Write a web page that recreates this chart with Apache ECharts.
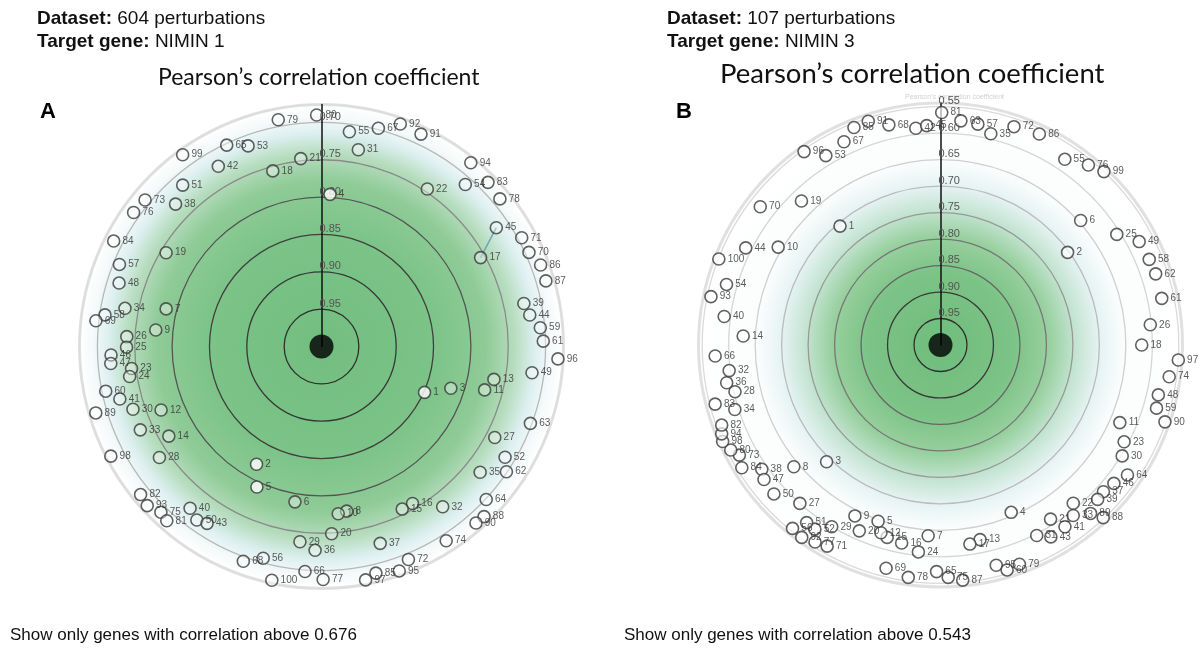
<!DOCTYPE html>
<html><head><meta charset="utf-8">
<script src="https://cdn.jsdelivr.net/npm/echarts@6/dist/echarts.min.js"></script>
<style>html,body{margin:0;padding:0;background:#fff}#c{width:1200px;height:650px}</style>
</head><body><div id="c"></div>
<script>
// ---------- Panel A data (NIMIN 1) ----------
const genesA = ['79','80','65','53','99','42','21','18','51','73','38','76','84','19','57','48','34','7','58','69','9','26','25','46','47','23','24','60','41','89','30','12','33','14','98','28','2','5','6','82','93','75','81','40','50','43','68','56','100','29','36','66','77','61','96','49','13','11','3','1','63','27','52','35','62','64','88','90','74','32','16','15','8','10','20','37','72','95','85','97','55','67','92','91','31','4','22','94','54','83','78','45','17','71','70','86','87','39','44','59'];
const corrA = [0.691,0.690,0.702,0.714,0.683,0.722,0.747,0.756,0.715,0.693,0.727,0.691,0.688,0.757,0.708,0.716,0.732,0.786,0.707,0.696,0.777,0.739,0.739,0.718,0.717,0.744,0.740,0.705,0.721,0.685,0.734,0.769,0.733,0.763,0.682,0.737,0.820,0.793,0.789,0.687,0.684,0.691,0.688,0.721,0.714,0.718,0.694,0.706,0.680,0.737,0.727,0.698,0.688,0.703,0.683,0.716,0.765,0.774,0.818,0.849,0.702,0.738,0.713,0.729,0.701,0.699,0.685,0.686,0.691,0.731,0.757,0.757,0.777,0.775,0.749,0.725,0.692,0.682,0.688,0.682,0.710,0.698,0.684,0.686,0.732,0.796,0.746,0.683,0.710,0.687,0.690,0.717,0.756,0.695,0.695,0.687,0.687,0.723,0.718,0.706];
const angleA = [349.2,358.8,334.8,339.9,324.1,330.2,353.7,344.5,319.3,309.7,314.3,305.5,296.9,301.1,292.1,287.4,281.0,283.6,278.3,276.5,275.7,272.9,269.8,267.7,265.4,263.4,261.1,258.3,255.4,253.6,251.6,248.4,245.3,239.6,242.5,235.6,208.9,204.7,189.7,230.7,227.6,224.1,221.6,219.1,215.7,212.9,200.0,195.4,192.0,186.3,181.8,184.2,179.6,88.6,93.0,97.1,100.8,104.9,107.9,114.0,110.2,117.7,121.1,128.4,124.1,132.9,136.3,138.8,147.3,142.9,149.9,153.6,171.3,174.3,176.9,163.4,157.8,160.9,166.5,169.3,7.4,14.6,19.5,25.1,10.6,3.2,33.9,39.1,41.6,45.4,50.4,55.8,60.8,61.5,65.6,69.6,73.7,78.0,81.4,85.1];
const highlightA = ['1','2','4','5'];
const linksA = [['45','17']];
const thresholdA = 0.676;

// ---------- Panel B data (NIMIN 3) ----------
const genesB = ['85','91','68','42','45','81','63','57','35','72','86','55','76','99','6','2','25','49','58','62','61','26','18','97','74','48','59','90','11','23','30','64','46','37','39','22','33','89','88','21','41','31','43','4','13','17','95','60','79','65','75','87','7','24','16','15','12','20','5','9','69','78','29','52','51','56','92','77','71','27','50','3','8','38','47','84','73','80','98','94','82','34','83','28','36','32','66','14','40','93','54','100','44','10','70','19','1','96','53','67'];
const corrB = [0.558,0.556,0.573,0.588,0.585,0.561,0.575,0.577,0.590,0.565,0.560,0.578,0.560,0.550,0.646,0.703,0.607,0.577,0.574,0.572,0.573,0.602,0.620,0.550,0.564,0.578,0.575,0.552,0.631,0.608,0.598,0.570,0.581,0.586,0.584,0.610,0.592,0.574,0.552,0.611,0.584,0.597,0.582,0.657,0.625,0.620,0.571,0.557,0.560,0.572,0.561,0.554,0.639,0.607,0.619,0.623,0.628,0.617,0.647,0.639,0.566,0.557,0.600,0.579,0.580,0.555,0.552,0.559,0.564,0.600,0.578,0.692,0.640,0.589,0.581,0.559,0.567,0.557,0.550,0.554,0.560,0.593,0.560,0.602,0.590,0.598,0.574,0.627,0.588,0.557,0.580,0.551,0.589,0.642,0.571,0.622,0.706,0.553,0.582,0.575];
const angleB = [338.3,342.1,346.8,353.5,356.4,0.3,5.2,9.6,13.4,18.6,25.1,33.8,39.4,43.3,48.4,53.9,57.9,62.5,67.7,71.7,78.1,84.5,90.0,93.6,97.9,102.9,106.3,108.9,113.4,117.8,121.4,124.8,128.6,132.0,134.5,140.0,142.1,138.3,136.7,147.7,145.6,153.2,150.1,157.1,168.5,171.6,165.8,163.5,160.2,181.0,178.1,174.6,183.7,186.1,191.1,195.5,197.6,203.6,199.5,206.6,193.7,187.9,210.9,214.3,217.0,218.9,215.8,212.5,209.4,221.6,228.2,224.3,230.3,235.2,232.7,238.3,241.3,243.4,246.1,247.9,249.9,252.6,255.3,257.2,260.0,263.1,267.2,272.6,277.5,281.9,285.8,291.2,296.5,301.1,307.5,316.0,319.8,324.8,328.8,334.6];
const highlightB = [];
const linksB = [];
const thresholdB = 0.543;

const targetCorr = [1.0];
const tickStep = 0.05;

// ---------- layout (styles / positions) ----------
const R = 242;
const centerA = [321.5, 346.5];
const centerB = [940.5, 345];

const chart = echarts.init(document.getElementById('c'), null, {renderer: 'canvas'});

function pointData(genes, corr, angle, hl, baseFill) {
  return genes.map((g, i) => ({
    name: g,
    value: [1 - corr[i], angle[i]],
    itemStyle: hl.indexOf(g) >= 0 ? {color: '#ffffff'} : {color: baseFill}
  }));
}
function linkData(links, genes, corr, angle) {
  const out = [];
  links.forEach(l => {
    const a = genes.indexOf(l[0]), b = genes.indexOf(l[1]);
    out.push([1 - corr[a], angle[a]], [1 - corr[b], angle[b]], '-');
  });
  return out;
}
function radFmt(v) {
  const k = v / tickStep;
  if (v < 1e-9 || Math.abs(k - Math.round(k)) > 1e-6) return '';
  return (1 - v).toFixed(2);
}
function radiusAxis(idx, thr, colors) {
  return {
    polarIndex: idx, type: 'value', min: 0, max: +(1 - thr).toFixed(3), interval: tickStep,
    axisLine: {show: true, lineStyle: {color: '#111', width: 1.5}},
    axisTick: {show: false},
    axisLabel: {show: true, inside: true, margin: 2, formatter: radFmt, color: '#555',
      fontSize: 11, fontFamily: 'Liberation Sans', verticalAlign: 'bottom', align: 'left'},
    splitLine: {show: true, lineStyle: {color: colors, width: 1.3}},
    z: 1
  };
}
function angleAxis(idx) {
  return {
    polarIndex: idx, type: 'value', min: 0, max: 360, startAngle: 90, clockwise: true,
    axisLine: {show: true, lineStyle: {color: '#e2e2e2', width: 3}},
    axisTick: {show: false}, axisLabel: {show: false}, splitLine: {show: false}
  };
}
function pointSeries(idx, data) {
  return {
    type: 'scatter', coordinateSystem: 'polar', polarIndex: idx, symbol: 'circle', symbolSize: 12,
    data: data, z: 5,
    itemStyle: {borderColor: '#3a3a3a', borderWidth: 1.6},
    label: {show: true, position: 'right', distance: 2, formatter: p => p.name,
      color: '#333', fontSize: 10, fontFamily: 'Liberation Sans'},
    emphasis: {disabled: true}
  };
}
function gradCircle(c, stops) {
  return {
    type: 'circle', z: -5, silent: true,
    shape: {cx: c[0], cy: c[1], r: R},
    style: {fill: new echarts.graphic.RadialGradient(0.5, 0.5, 0.5, stops)}
  };
}
const FONT = 'Liberation Sans';
function txt(left, top, text, size) {
  return {
    type: 'text', left: left, top: top, silent: true,
    style: {text: text, fontSize: size, fontFamily: FONT, fill: '#111',
      rich: {b: {fontWeight: 'bold', fontSize: size, fontFamily: FONT, fill: '#111'}}}
  };
}

const option = {
  backgroundColor: '#ffffff',
  animation: false,
  polar: [
    {center: centerA, radius: R},
    {center: centerB, radius: R}
  ],
  angleAxis: [angleAxis(0), angleAxis(1)],
  radiusAxis: [
    radiusAxis(0, thresholdA, ['#000', '#2f2f2f', '#383838', '#404040', '#555', '#8a8a8a', '#b8b8b8', '#dcdcdc']),
    radiusAxis(1, thresholdB, ['#000', '#2f2f2f', '#3a3a3a', '#666', '#777', '#999', '#bbb', '#cfcfcf', '#d6d6d6', '#dadada', '#e0e0e0'])
  ],
  graphic: [
    gradCircle(centerA, [
      {offset: 0, color: '#72be7f'}, {offset: 0.45, color: '#7bc387'}, {offset: 0.68, color: '#8fcb97'},
      {offset: 0.8, color: '#b7ddbf'}, {offset: 0.88, color: '#dcefef'}, {offset: 0.95, color: '#f6fafa'},
      {offset: 1, color: '#ffffff'}]),
    gradCircle(centerB, [
      {offset: 0, color: '#6fbd7c'}, {offset: 0.3, color: '#7cc386'}, {offset: 0.45, color: '#98d09f'},
      {offset: 0.56, color: '#c4e4d2'}, {offset: 0.66, color: '#e6f3f3'}, {offset: 0.76, color: '#fbfdfd'},
      {offset: 1, color: '#ffffff'}]),
    txt(37, 9, '{b|Dataset:} 604 perturbations', 19),
    txt(37, 32, '{b|Target gene:} NIMIN 1', 19),
    txt(667, 9, '{b|Dataset:} 107 perturbations', 19),
    txt(667, 32, '{b|Target gene:} NIMIN 3', 19),
    {type: 'text', left: 158, top: 66, silent: true, style: {text: 'Pearson’s correlation coefficient', fontSize: 23, fontFamily: 'Lato', fill: '#111'}},
    {type: 'text', left: 720, top: 60, silent: true, style: {text: 'Pearson’s correlation coefficient', fontSize: 27.5, fontFamily: 'Lato', fill: '#111'}},
    {type: 'text', left: 905, top: 94, silent: true, style: {text: 'Pearson’s correlation coefficient', fontSize: 7, fontFamily: FONT, fill: '#d0d0d0'}},
    {type: 'text', left: 40, top: 101, silent: true, style: {text: 'A', fontSize: 22, fontWeight: 'bold', fontFamily: FONT, fill: '#000'}},
    {type: 'text', left: 676, top: 101, silent: true, style: {text: 'B', fontSize: 22, fontWeight: 'bold', fontFamily: FONT, fill: '#000'}},
    txt(10, 627, 'Show only genes with correlation above 0.676', 17),
    txt(624, 627, 'Show only genes with correlation above 0.543', 17)
  ],
  series: [
    {type: 'line', coordinateSystem: 'polar', polarIndex: 0, data: linkData(linksA, genesA, corrA, angleA),
      symbol: 'none', lineStyle: {color: '#6aa6b6', width: 1.5}, z: 3, silent: true},
    pointSeries(0, pointData(genesA, corrA, angleA, highlightA, 'rgba(255,255,255,0.45)')),
    pointSeries(1, pointData(genesB, corrB, angleB, highlightB, 'rgba(255,255,255,0.85)')),
    {type: 'scatter', coordinateSystem: 'polar', polarIndex: 0, symbolSize: 24, z: 6, silent: true,
      itemStyle: {color: '#000'}, data: targetCorr.map(c => [1 - c, 0])},
    {type: 'scatter', coordinateSystem: 'polar', polarIndex: 1, symbolSize: 24, z: 6, silent: true,
      itemStyle: {color: '#000'}, data: targetCorr.map(c => [1 - c, 0])}
  ]
};
chart.setOption(option);
</script>
</body></html>
